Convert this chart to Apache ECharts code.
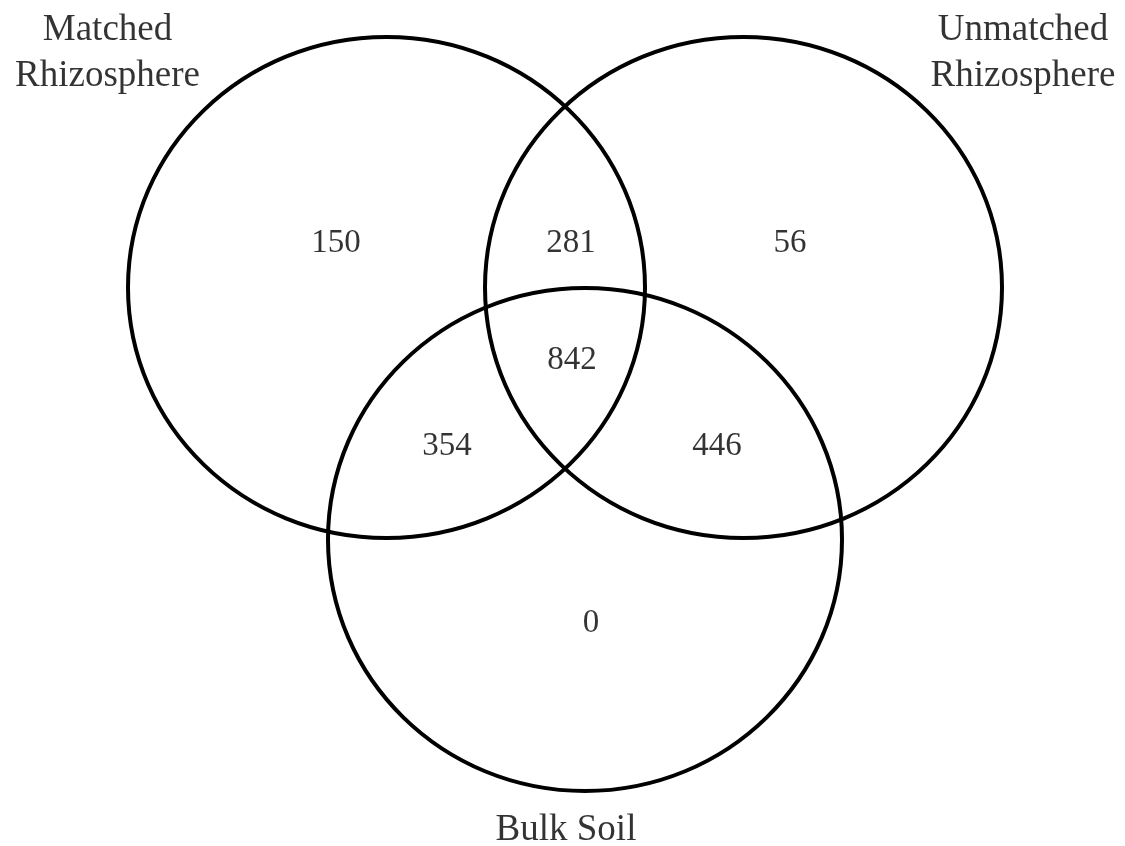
<!DOCTYPE html>
<html>
<head>
	<meta charset="utf-8">
	<title>Venn</title>
	<script src="https://cdn.jsdelivr.net/npm/echarts@6/dist/echarts.min.js"></script>
	<style>
		html, body { margin: 0; padding: 0; background: #fff; }
		#chart { width: 1125px; height: 846px; }
	</style>
</head>
<body>
<div id="chart"></div>
<script>
	// sets (diagram units: x 0..1125, y 0..846 from top)
	var setNames = ['Matched\nRhizosphere', 'Unmatched\nRhizosphere', 'Bulk Soil'];
	var circleX = [386.5, 743.5, 585];
	var circleY = [287.5, 287.5, 539.5];
	var radiusX = [258.5, 258.5, 257];
	var radiusY = [250.5, 250.5, 251.5];
	var setLabelX = [107.5, 1023, 566];
	var setLabelY = [53.5, 53.5, 830];

	// region counts
	var regions = ['Matched only', 'Matched & Unmatched', 'Unmatched only', 'All three', 'Matched & Bulk', 'Unmatched & Bulk', 'Bulk only'];
	var counts = [150, 281, 56, 842, 354, 446, 0];
	var countX = [336, 571, 790, 572, 447, 717, 591];
	var countY = [243.5, 243.5, 243.5, 360.5, 446.5, 446.5, 623.5];

	var circleData = [];
	for (var i = 0; i < setNames.length; i++) {
		circleData.push([circleX[i], circleY[i], radiusX[i], radiusY[i]]);
	}
	var setLabelData = [];
	for (var i = 0; i < setNames.length; i++) {
		setLabelData.push({ name: setNames[i], value: [setLabelX[i], setLabelY[i]] });
	}
	var countData = [];
	for (var i = 0; i < counts.length; i++) {
		countData.push({ name: String(counts[i]), value: [countX[i], countY[i]], region: regions[i] });
	}

	var myChart = echarts.init(document.getElementById('chart'));
	var option = {
		backgroundColor: '#fff',
		animation: false,
		grid: { left: 0, right: 0, top: 0, bottom: 0 },
		xAxis: { type: 'value', min: 0, max: 1125, show: false },
		yAxis: { type: 'value', min: 0, max: 846, inverse: true, show: false },
		series: [
			{
				type: 'custom',
				silent: true,
				data: circleData,
				renderItem: function (params, api) {
					var c = api.coord([api.value(0), api.value(1)]);
					var s = api.size([api.value(2), api.value(3)]);
					return {
						type: 'ellipse',
						shape: { cx: c[0], cy: c[1], rx: s[0], ry: s[1] },
						style: { fill: 'none', stroke: '#000', lineWidth: 4 }
					};
				}
			},
			{
				type: 'scatter',
				silent: true,
				symbolSize: 1,
				itemStyle: { color: 'rgba(0,0,0,0)' },
				data: setLabelData,
				label: {
					show: true,
					position: 'inside',
					formatter: '{b}',
					color: '#000',
					fontFamily: 'Liberation Serif',
					fontSize: 37,
					lineHeight: 46,
					align: 'center'
				}
			},
			{
				type: 'scatter',
				silent: true,
				symbolSize: 1,
				itemStyle: { color: 'rgba(0,0,0,0)' },
				data: countData,
				label: {
					show: true,
					position: 'inside',
					formatter: '{b}',
					color: '#000',
					fontFamily: 'Liberation Serif',
					fontSize: 33
				}
			}
		]
	};
	myChart.setOption(option);
</script>
</body>
</html>
